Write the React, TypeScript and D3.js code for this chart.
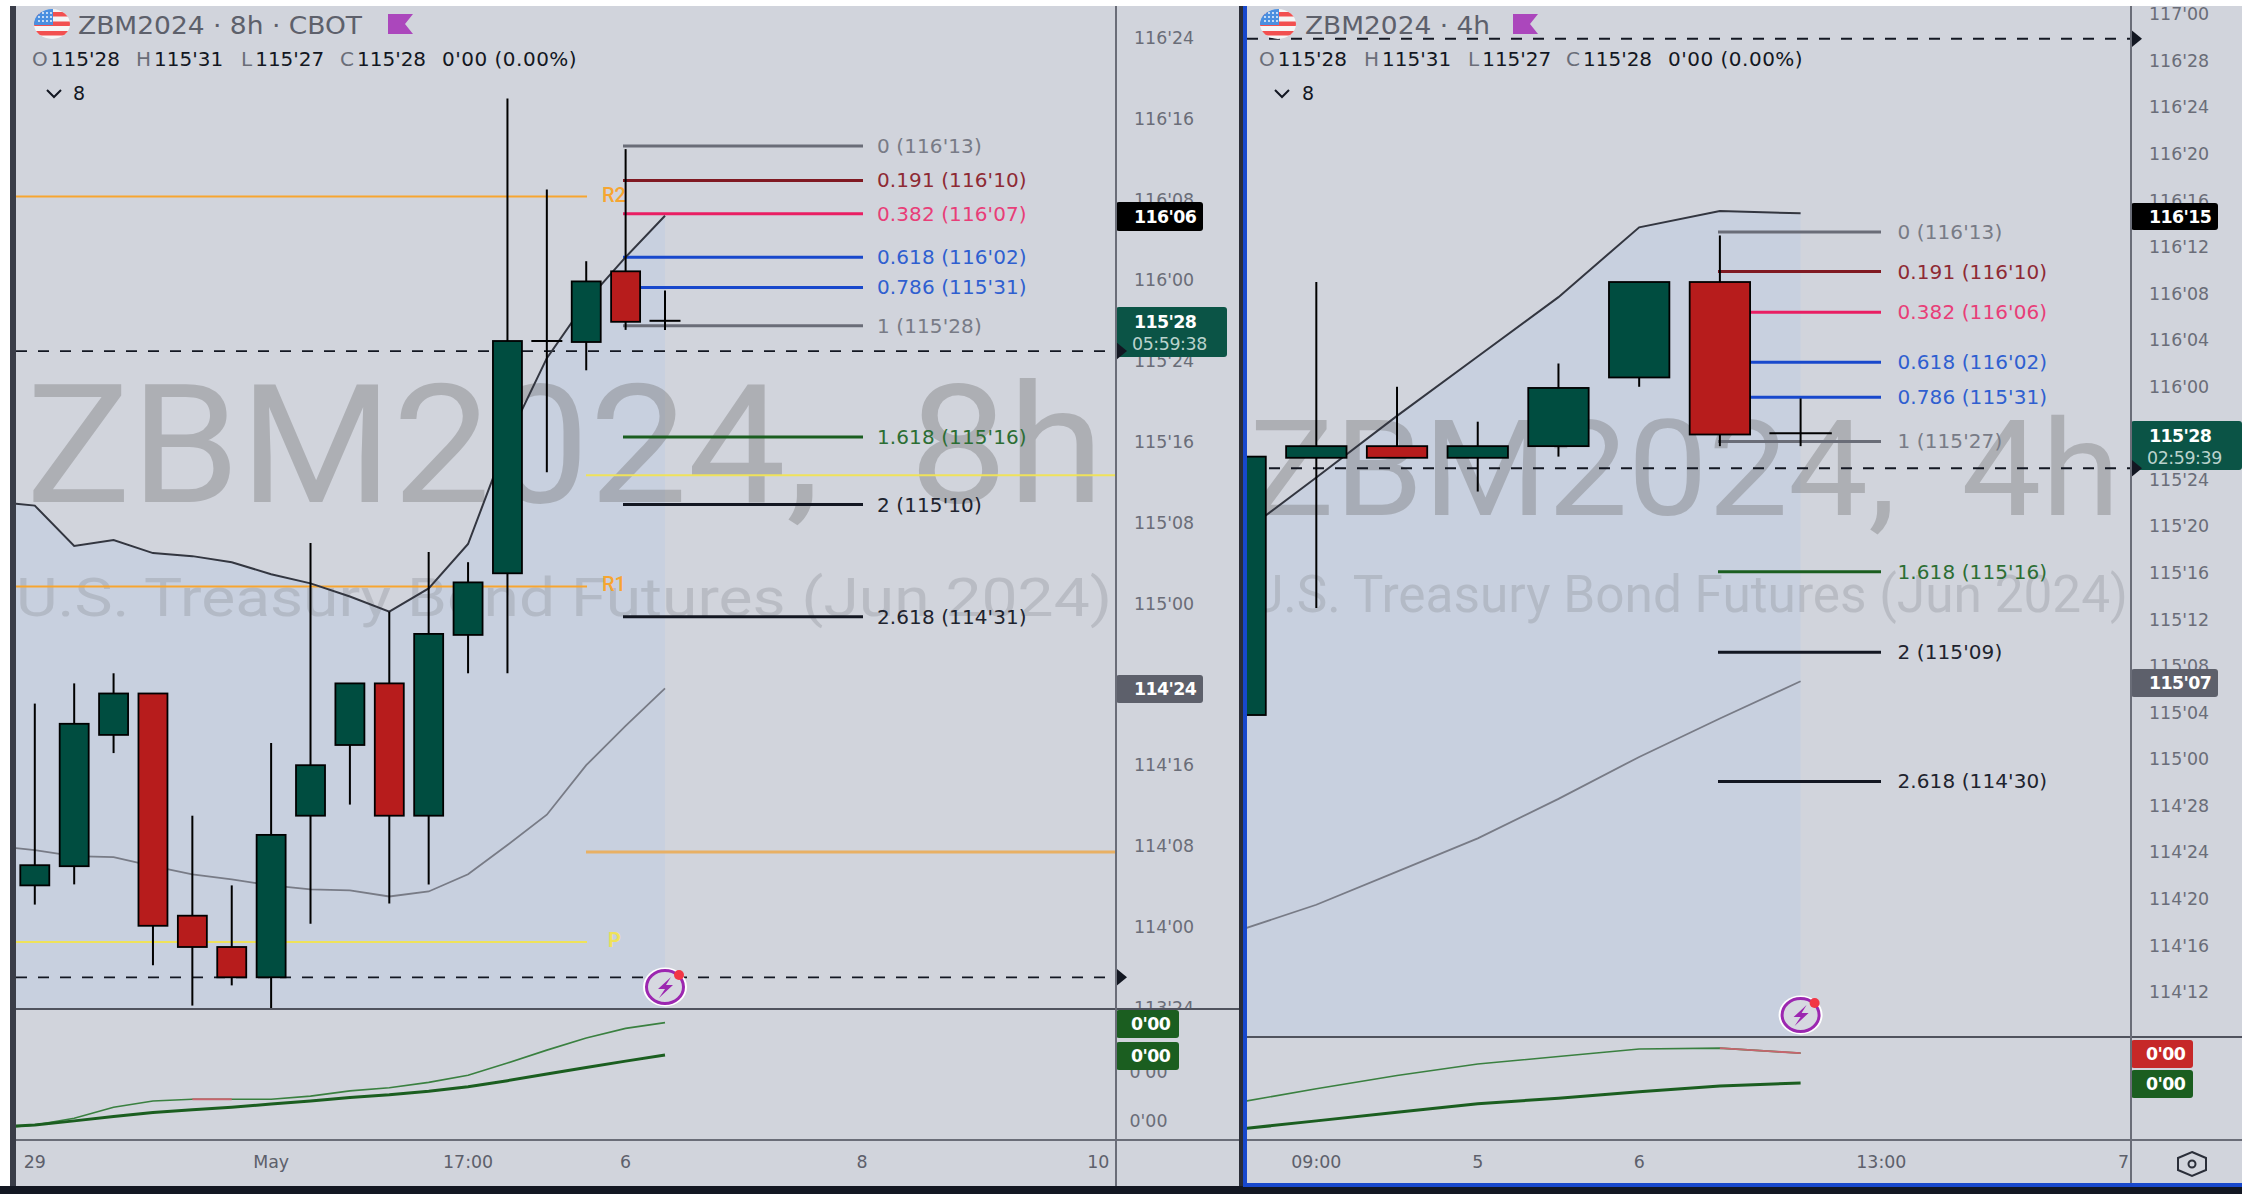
import React from "react";
import * as d3 from "d3";

// ---- Prices are expressed in 32nds (115'28 = 115*32 + 28) ----
const leftOpen = [3652.1, 3654.0, 3667.0, 3671.1, 3649.1, 3646.0, 3643.0, 3659.0, 3666.0, 3672.1, 3659.0, 3676.9, 3683, 3706, 3705.9, 3712.9, 3708];
const leftClose = [3654.1, 3668.1, 3671.1, 3648.1, 3646.0, 3643.0, 3657.1, 3664.0, 3672.1, 3659.0, 3677.0, 3682.1, 3706, 3706, 3711.9, 3707.9, 3708];
const leftHigh = [3670.1, 3672.1, 3673.1, 3671.1, 3659.0, 3652.1, 3666.2, 3686.0, 3672.1, 3679.2, 3685.1, 3684.1, 3730, 3721, 3713.9, 3725, 3711];
const leftLow = [3650.2, 3652.2, 3665.2, 3644.2, 3640.2, 3642.2, 3638, 3648.3, 3660.1, 3650.3, 3652.2, 3673.1, 3673.1, 3693, 3703.1, 3707.1, 3707.1];
const leftUpper = [3690.1, 3689.7, 3685.7, 3686.3, 3685, 3684.7, 3684.1, 3682.9, 3682, 3680.7, 3679.2, 3681.5, 3685.9, 3696.2, 3704.3, 3709.9, 3714.3, 3718.4];
const leftLower = [3656, 3655.6, 3655, 3654.9, 3654, 3653.2, 3652.7, 3652.1, 3651.7, 3651.6, 3651, 3651.5, 3653.2, 3656.1, 3659.1, 3664, 3667.9, 3671.6];
const leftThin = [8.8, 11.5, 16.6, 25, 29.8, 31.1, 31.1, 31.1, 33.5, 37.5, 39.9, 44, 49.4, 58.8, 68.6, 77.8, 85.2, 89.6];
const leftThick = [9.8, 11.5, 14.6, 17.9, 21, 23, 25, 27.4, 29.8, 32.5, 34.5, 37.2, 40.6, 45.3, 50.4, 55.4, 60.2, 64.9];
const leftFibValues = [3725.3, 3721.9, 3718.6, 3714.3, 3711.3, 3707.5, 3696.5, 3689.8, 3678.7];
const leftFibLabels = ["0 (116'13)", "0.191 (116'10)", "0.382 (116'07)", "0.618 (116'02)", "0.786 (115'31)", "1 (115'28)", "1.618 (115'16)", "2 (115'10)", "2.618 (114'31)"];
const leftTicks = ["116'24", "116'16", "116'08", "116'00", "115'24", "115'16", "115'08", "115'00", "114'24", "114'16", "114'08", "114'00", "113'24"];
const leftTimeLabels = ["29", "May", "17:00", "6", "8", "10"];
const leftTimeIndex = [0, 6, 11, 15, 21, 27];
const leftDashes = [3705, 3643];
const pivotLabels = ["R2", "R1", "P"];
const pivotValues = [3720.3, 3681.7, 3646.5];
const pivotColors = ["#f7a530", "#f7a530", "#efe25a"];
const futureLevels = [3692.7, 3655.4];
const futureColors = ["#efe25a", "#e8b064"];
const futureWidths = [2, 3];

const rightOpen = [3683.8, 3705.9, 3706.9, 3705.9, 3706.9, 3712.8, 3721, 3708];
const rightClose = [3706, 3706.9, 3705.9, 3706.9, 3711.9, 3721, 3707.9, 3708];
const rightHigh = [3706, 3721, 3712, 3709, 3714, 3721, 3725, 3711];
const rightLow = [3683.8, 3693, 3705.9, 3703, 3706, 3712, 3706.9, 3706.9];
const rightUpper = [3699.0, 3704.2, 3709.5, 3714.6, 3719.7, 3725.7, 3727.1, 3726.9];
const rightLower = [3665.2, 3667.5, 3670.35, 3673.2, 3676.6, 3680.2, 3683.5, 3686.7];
const rightThin = [28.4, 39.1, 49.3, 58, 63.7, 69.5, 70.1, 66.3];
const rightThick = [8, 14.6, 21.2, 27.6, 31.9, 36.8, 41.2, 43.5];
const rightFibValues = [3725.3, 3721.9, 3718.4, 3714.1, 3711.1, 3707.3, 3696.1, 3689.2, 3678.1];
const rightFibLabels = ["0 (116'13)", "0.191 (116'10)", "0.382 (116'06)", "0.618 (116'02)", "0.786 (115'31)", "1 (115'27)", "1.618 (115'16)", "2 (115'09)", "2.618 (114'30)"];
const rightTicks = ["117'00", "116'28", "116'24", "116'20", "116'16", "116'12", "116'08", "116'04", "116'00", "115'28", "115'24", "115'20", "115'16", "115'12", "115'08", "115'04", "115'00", "114'28", "114'24", "114'20", "114'16", "114'12"];
const rightTimeLabels = ["09:00", "5", "6", "13:00", "7"];
const rightTimeIndex = [1, 3, 5, 8, 11];
const rightDashes = [3741.9, 3705];

const fibColors = ["#6a6d78", "#801922", "#e91e63", "#1848cc", "#1848cc", "#6a6d78", "#1b5e20", "#131722", "#131722"];
const fibTextColors = ["#787b86", "#8e2a34", "#e83e78", "#2f5fd0", "#2f5fd0", "#787b86", "#2c6e34", "#20232e", "#20232e"];

const GREEN = "#004d40";
const RED = "#b71c1c";
const FONT = "Roboto, sans-serif";
const WIDE = "'DejaVu Sans', sans-serif";

const parseTick = (s: string) => {
  const [a, b] = s.split("'");
  return +a * 32 + +b;
};

const leftX = d3.scaleLinear().domain([0, 16]).range([34.8, 665]);
const leftY = d3.scaleLinear().domain([3736, 3636]).range([38, 1048]);
const leftSub = d3.scaleLinear().domain([0, 100]).range([1140, 1009]);
const rightX = d3.scaleLinear().domain([0, 7]).range([1235.6, 1800.6]);
const rightY = d3.scaleLinear().domain([3744, 3644]).range([14.3, 1178.3]);
const rightSub = d3.scaleLinear().domain([0, 100]).range([1140, 1009]);

function Flag({ cx, id }: { cx: number; id: string }) {
  const rx = 18, ry = 15, cy = 24;
  return (
    <g>
      <clipPath id={id}><ellipse cx={cx} cy={cy} rx={rx} ry={ry} /></clipPath>
      <g clipPath={`url(#${id})`}>
        <rect x={cx - rx} y={cy - ry} width={rx * 2} height={ry * 2} fill="#f5f5f5" />
        {[0, 1, 2].map((k) => (
          <rect key={k} x={cx - rx} y={cy - ry + 3 + k * 9.5} width={rx * 2} height={4.5} fill="#f25050" />
        ))}
        <rect x={cx - rx} y={cy - ry} width={rx + 1} height={ry + 1} fill="#4a8fe0" />
        {d3.range(3).flatMap((r) =>
          d3.range(4).map((c) => (
            <circle key={`${r}-${c}`} cx={cx - rx + 5 + c * 4} cy={cy - ry + 4 + r * 4} r={0.9} fill="#ffffff" />
          ))
        )}
      </g>
    </g>
  );
}

function FlagMark({ x }: { x: number }) {
  return <polygon points={`${x},14 ${x + 25},14 ${x + 17},24 ${x + 25},34 ${x},34`} fill="#ab47bc" />;
}

function Ohlc({ xs }: { xs: number[] }) {
  const labels = ["O", "H", "L", "C"];
  const vals = ["115'28", "115'31", "115'27", "115'28"];
  return (
    <g fontFamily={WIDE} fontSize={20} dominantBaseline="central">
      {labels.map((l, i) => (
        <text key={l} x={xs[i]} y={59} fill="#131722">
          <tspan fill="#6a6d78">{l}</tspan>
          <tspan dx={3}>{vals[i]}</tspan>
        </text>
      ))}
      <text x={xs[4]} y={59} fill="#131722" letterSpacing={0.5}>0'00 (0.00%)</text>
    </g>
  );
}

function Lightning({ cx, cy }: { cx: number; cy: number }) {
  return (
    <g>
      <ellipse cx={cx} cy={cy} rx={22} ry={19.5} fill="#ffffff" />
      <ellipse cx={cx} cy={cy} rx={18.5} ry={16.5} fill="#d6d8e0" stroke="#9c27b0" strokeWidth={3} />
      <path d={`M${cx + 6},${cy - 10} L${cx - 7},${cy + 2} L${cx},${cy + 2} L${cx - 6},${cy + 11} L${cx + 8},${cy - 2} L${cx + 1},${cy - 2} Z`} fill="#9c27b0" />
      <circle cx={cx + 14} cy={cy - 12} r={5} fill="#f23645" />
    </g>
  );
}

function Candles({ x, y, open, close, high, low, width }: any) {
  return (
    <g>
      {open.map((o: number, i: number) => {
        const c = close[i];
        const top = y(Math.max(o, c));
        const bot = y(Math.min(o, c));
        const cx = x(i);
        return (
          <g key={i}>
            <line x1={cx} x2={cx} y1={y(high[i])} y2={y(low[i])} stroke="#000" strokeWidth={2} />
            {bot - top < 0.5 ? (
              <line x1={cx - width / 2 - 1} x2={cx + width / 2 + 1} y1={top} y2={top} stroke="#000" strokeWidth={2} />
            ) : (
              <rect x={cx - width / 2} y={top} width={width} height={bot - top} fill={c >= o ? GREEN : RED} stroke="#000" strokeWidth={1.8} />
            )}
          </g>
        );
      })}
    </g>
  );
}

function Fib({ values, y, x1, x2 }: any) {
  return (
    <g>
      {values.map((v: number, i: number) => (
        <line key={i} x1={x1} x2={x2} y1={y(v)} y2={y(v)} stroke={fibColors[i]} strokeWidth={3} />
      ))}
    </g>
  );
}

function FibText({ values, labels, y, tx }: any) {
  return (
    <g fontFamily={WIDE} fontSize={20} dominantBaseline="central" letterSpacing={0.1}>
      {values.map((v: number, i: number) => (
        <text key={i} x={tx} y={y(v)} fill={fibTextColors[i]}>{labels[i]}</text>
      ))}
    </g>
  );
}

function Badge({ x, y, w, h, fill, text, tx, color = "#fff", rx = 3 }: any) {
  return (
    <g>
      <rect x={x} y={y} width={w} height={h} fill={fill} rx={rx} />
      <text x={tx} y={y + h / 2} fill={color} fontFamily={WIDE} fontSize={17.4} fontWeight={700} dominantBaseline="central" letterSpacing={-0.6}>{text}</text>
    </g>
  );
}

function CountBadge({ x, w, y, h, price, timer, tx }: any) {
  return (
    <g fontFamily={WIDE} dominantBaseline="central">
      <rect x={x} y={y} width={w} height={h} fill="#0b5446" rx={3} />
      <text x={tx} y={y + 15} fill="#fff" fontWeight={700} fontSize={17.4} letterSpacing={-0.6}>{price}</text>
      <text x={tx - 2} y={y + 37} fill="#b9d2cc" fontSize={17.4} letterSpacing={-0.4}>{timer}</text>
    </g>
  );
}

function Diamond({ x, y }: { x: number; y: number }) {
  return <polygon points={`${x},${y - 9} ${x + 11},${y} ${x},${y + 9}`} fill="#131722" />;
}

function SubLines({ x, sub, thin, thick, start, redFrom }: any) {
  const line = d3.line<number>().x((_, i) => x(i + start)).y((d) => sub(d));
  return (
    <g fill="none">
      <path d={line(thin) ?? ""} stroke="#3a8040" strokeWidth={1.6} />
      <path d={d3.line<number>().x((_, i) => x(i + start + redFrom)).y((d) => sub(d))(thin.slice(redFrom, redFrom + 2)) ?? ""} stroke="#c8646e" strokeWidth={1.8} />
      <path d={line(thick) ?? ""} stroke="#1b5e20" strokeWidth={3} />
    </g>
  );
}

export default function App() {
  const bandL = d3.line<number>().x((_, i) => leftX(i - 1)).y((d) => leftY(d));
  const areaL = d3.area<number>().x((_, i) => leftX(i - 1)).y0(1009).y1((d) => leftY(d));
  const bandR = d3.line<number>().x((_, i) => rightX(i)).y((d) => rightY(d));
  const areaR = d3.area<number>().x((_, i) => rightX(i)).y0(1037).y1((d) => rightY(d));

  return (
    <div style={{ position: "fixed", left: 0, top: 0 }}>
      <svg width={2242} height={1194} style={{ display: "block" }}>
        <defs>
          <clipPath id="cL"><rect x={16} y={6} width={1100} height={1003} /></clipPath>
          <clipPath id="cR"><rect x={1247} y={6} width={884} height={1031} /></clipPath>
          <clipPath id="axL"><rect x={1117} y={6} width={122} height={1003} /></clipPath>
          <clipPath id="axR"><rect x={2132} y={6} width={110} height={1031} /></clipPath>
          <clipPath id="lowL"><rect x={16} y={1009} width={1100} height={131} /></clipPath>
          <clipPath id="lowR"><rect x={1247} y={1037} width={884} height={103} /></clipPath>
        </defs>
        <rect width={2242} height={1194} fill="#ffffff" />
        <rect x={16} y={6} width={2226} height={1180} fill="#d1d4dc" />
        <rect x={10} y={6} width={6} height={1188} fill="#3a3d48" />
        <rect x={0} y={1186} width={2242} height={8} fill="#131722" />

        {/* LEFT PANE */}
        <g clipPath="url(#cL)">
          <path d={areaL(leftUpper) ?? ""} fill="#c8d0df" />
          <text x={26} y={502} fontFamily={FONT} fontSize={165} fill="#6f6f6f" opacity={0.36} wordSpacing={43} textLength={1078} lengthAdjust="spacingAndGlyphs">ZBM2024, 8h</text>
          <text x={16} y={616} fontFamily={FONT} fontSize={54} fill="#8a8d94" opacity={0.32} textLength={1096} lengthAdjust="spacingAndGlyphs">U.S. Treasury Bond Futures (Jun 2024)</text>
          {pivotValues.map((v, i) => (
            <g key={pivotLabels[i]}>
              <line x1={16} x2={587} y1={leftY(v)} y2={leftY(v)} stroke={pivotColors[i]} strokeWidth={2} />
              <text x={i === 2 ? 608 : 602} y={leftY(v) - 2} fill={pivotColors[i]} fontFamily={FONT} fontSize={20} fontWeight={i === 2 ? 700 : 500} dominantBaseline="central">{pivotLabels[i]}</text>
            </g>
          ))}
          {futureLevels.map((v, i) => (
            <line key={i} x1={586} x2={1116} y1={leftY(v)} y2={leftY(v)} stroke={futureColors[i]} strokeWidth={futureWidths[i]} />
          ))}
          {leftDashes.map((v) => (
            <line key={v} x1={16} x2={1116} y1={leftY(v)} y2={leftY(v)} stroke="#131722" strokeWidth={1.8} strokeDasharray="11 11" />
          ))}
          <Fib values={leftFibValues} y={leftY} x1={623} x2={863} />
          <path d={bandL(leftLower) ?? ""} fill="none" stroke="#787b86" strokeWidth={1.8} />
          <path d={bandL(leftUpper) ?? ""} fill="none" stroke="#333640" strokeWidth={2} />
          <Candles x={leftX} y={leftY} open={leftOpen} close={leftClose} high={leftHigh} low={leftLow} width={29} />
          <FibText values={leftFibValues} labels={leftFibLabels} y={leftY} tx={877} />
          <Lightning cx={665} cy={987} />
        </g>

        {/* LEFT LOWER PANE */}
        <g clipPath="url(#lowL)">
          <SubLines x={leftX} sub={leftSub} thin={leftThin} thick={leftThick} start={-1} redFrom={5} />
        </g>

        {/* LEFT AXIS */}
        <g clipPath="url(#axL)" fontFamily={WIDE} fontSize={17.4} fill="#6a6d78">
          {leftTicks.map((t) => (
            <text key={t} x={1134} y={leftY(parseTick(t))} dominantBaseline="central">{t}</text>
          ))}
        </g>
        <g fontFamily={WIDE} fontSize={17.4} fill="#6a6d78">
          <text x={1129.5} y={1072} dominantBaseline="central">0'00</text>
          <text x={1129.5} y={1121} dominantBaseline="central">0'00</text>
        </g>
        <Badge x={1116} y={202} w={87} h={29} fill="#000000" text="116'06" tx={1134} />
        <Badge x={1116} y={675} w={87} h={28} fill="#5d606b" text="114'24" tx={1134} />
        <CountBadge x={1116} w={111} y={307} h={50} price="115'28" timer="05:59:38" tx={1134} />
        <Badge x={1116} y={1010} w={63} h={28} fill="#1b5e20" text="0'00" tx={1131} />
        <Badge x={1116} y={1042} w={63} h={28} fill="#1b5e20" text="0'00" tx={1131} />
        {leftDashes.map((v) => <Diamond key={v} x={1116} y={leftY(v)} />)}
        <line x1={16} x2={1239} y1={1009} y2={1009} stroke="#50535e" strokeWidth={2} />
        <line x1={16} x2={1239} y1={1140} y2={1140} stroke="#6a6d78" strokeWidth={2} />
        <line x1={1116} x2={1116} y1={6} y2={1186} stroke="#6a6d78" strokeWidth={2} />
        <g fontFamily={WIDE} fontSize={17.4} fill="#5d606b" textAnchor="middle" dominantBaseline="central">
          {leftTimeLabels.map((t, i) => (
            <text key={t} x={leftX(leftTimeIndex[i])} y={1162}>{t}</text>
          ))}
        </g>

        {/* LEFT HEADER */}
        <Flag cx={52} id="flagL" />
        <text x={78} y={25} fontFamily={WIDE} fontSize={25} fill="#5d606b" dominantBaseline="central" textLength={284} lengthAdjust="spacingAndGlyphs">ZBM2024 · 8h · CBOT</text>
        <FlagMark x={388} />
        <Ohlc xs={[32, 136, 241, 340, 442]} />
        <path d="M47,90 L54,97 L61,90" fill="none" stroke="#131722" strokeWidth={2} />
        <text x={73} y={93} fontFamily={WIDE} fontSize={19} fill="#131722" dominantBaseline="central">8</text>

        {/* RIGHT PANE */}
        <rect x={1239} y={6} width={4} height={1180} fill="#2a2d38" />
        <g clipPath="url(#cR)">
          <path d={areaR(rightUpper) ?? ""} fill="#c8d0df" />
          <text x={1249} y={515} fontFamily={FONT} fontSize={134} fill="#6f6f6f" opacity={0.36} wordSpacing={28} textLength={871} lengthAdjust="spacingAndGlyphs">ZBM2024, 4h</text>
          <text x={1250} y={612} fontFamily={FONT} fontSize={52} fill="#8a8d94" opacity={0.32} textLength={878} lengthAdjust="spacingAndGlyphs">U.S. Treasury Bond Futures (Jun 2024)</text>
          {rightDashes.map((v) => (
            <line key={v} x1={1247} x2={2131} y1={rightY(v)} y2={rightY(v)} stroke="#131722" strokeWidth={1.8} strokeDasharray="11 11" />
          ))}
          <Fib values={rightFibValues} y={rightY} x1={1718} x2={1881} />
          <path d={bandR(rightLower) ?? ""} fill="none" stroke="#787b86" strokeWidth={1.8} />
          <path d={bandR(rightUpper) ?? ""} fill="none" stroke="#333640" strokeWidth={2} />
          <Candles x={rightX} y={rightY} open={rightOpen} close={rightClose} high={rightHigh} low={rightLow} width={60.4} />
          <FibText values={rightFibValues} labels={rightFibLabels} y={rightY} tx={1897.5} />
          <Lightning cx={1800.6} cy={1015} />
        </g>
        <g clipPath="url(#lowR)">
          <SubLines x={rightX} sub={rightSub} thin={rightThin} thick={rightThick} start={0} redFrom={6} />
        </g>

        {/* RIGHT AXIS */}
        <g clipPath="url(#axR)" fontFamily={WIDE} fontSize={17.4} fill="#6a6d78">
          {rightTicks.map((t) => (
            <text key={t} x={2149} y={rightY(parseTick(t))} dominantBaseline="central">{t}</text>
          ))}
        </g>
        <text x={2146} y={1092} fontFamily={WIDE} fontSize={17.4} fill="#6a6d78" dominantBaseline="central">0'00</text>
        <Badge x={2131} y={203} w={87} h={27} fill="#000000" text="116'15" tx={2149} />
        <Badge x={2131} y={669} w={87} h={28} fill="#5d606b" text="115'07" tx={2149} />
        <CountBadge x={2131} w={111} y={421} h={49} price="115'28" timer="02:59:39" tx={2149} />
        <Badge x={2131} y={1040} w={62} h={28} fill="#c62828" text="0'00" tx={2146} />
        <Badge x={2131} y={1070} w={62} h={28} fill="#1b5e20" text="0'00" tx={2146} />
        {rightDashes.map((v) => <Diamond key={v} x={2131} y={rightY(v)} />)}
        <line x1={1247} x2={2242} y1={1037} y2={1037} stroke="#50535e" strokeWidth={2} />
        <line x1={1247} x2={2242} y1={1140} y2={1140} stroke="#6a6d78" strokeWidth={2} />
        <line x1={2131} x2={2131} y1={6} y2={1184} stroke="#6a6d78" strokeWidth={2} />
        <g fontFamily={WIDE} fontSize={17.4} fill="#5d606b" textAnchor="middle" dominantBaseline="central">
          {rightTimeLabels.map((t, i) => (
            <text key={t} x={rightX(rightTimeIndex[i])} y={1162}>{t}</text>
          ))}
        </g>
        <polygon points="2192,1152 2206,1158 2206,1170 2192,1176 2178,1170 2178,1158" fill="none" stroke="#2a2e39" strokeWidth={2} />
        <circle cx={2192} cy={1164} r={3.5} fill="none" stroke="#2a2e39" strokeWidth={2} />

        {/* RIGHT HEADER */}
        <Flag cx={1278} id="flagR" />
        <text x={1305} y={25} fontFamily={WIDE} fontSize={25} fill="#5d606b" dominantBaseline="central" textLength={185} lengthAdjust="spacingAndGlyphs">ZBM2024 · 4h</text>
        <FlagMark x={1513} />
        <Ohlc xs={[1259, 1364, 1468, 1566, 1668]} />
        <path d="M1275,90 L1282,97 L1289,90" fill="none" stroke="#131722" strokeWidth={2} />
        <text x={1302} y={93} fontFamily={WIDE} fontSize={19} fill="#131722" dominantBaseline="central">8</text>

        {/* BLUE ACTIVE BORDER */}
        <rect x={1243} y={6} width={4} height={1181} fill="#1848cc" />
        <rect x={1243} y={1183} width={999} height={4} fill="#1848cc" />
      </svg>
    </div>
  );
}
